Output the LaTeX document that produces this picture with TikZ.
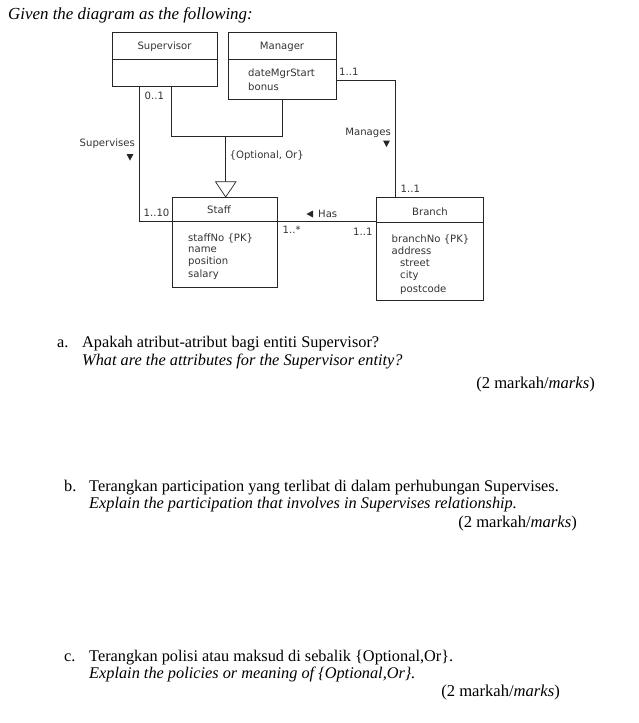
\documentclass[tikz,border=0pt]{standalone}
\usepackage{fontspec}
\setmainfont{Liberation Serif}
\newfontfamily\dv{DejaVu Sans}
\begin{document}
\begin{tikzpicture}[x=1pt,y=-1pt,
  box/.style={draw=black!85, line width=0.7pt, anchor=north west, inner sep=0pt, outer sep=0pt},
  lbl/.style={font=\dv\fontsize{10.1}{12}\selectfont, text=black!80, inner sep=0pt},
  lw/.style={lbl, anchor=west},
  conn/.style={draw=black!85, line width=0.7pt},
  q/.style={font=\fontsize{16.3}{19}\selectfont, inner sep=0pt, anchor=base west},
  qe/.style={font=\fontsize{16.6}{19}\selectfont, inner sep=0pt, anchor=base east},
  tri/.style={fill=black!85},
]
\useasboundingbox (0,0) rectangle (638,723);

% title
\node[q, font=\fontsize{16.9}{19}\selectfont] (title) at (8,19) {\textit{Given the diagram as the following:}};

% class boxes
\node[box, minimum width=105pt, minimum height=54pt] (sup) at (112,32) {};
\node[box, minimum width=108pt, minimum height=67pt] (mgr) at (228,32) {};
\node[box, minimum width=105pt, minimum height=90pt] (staff) at (172,197) {};
\node[box, minimum width=107pt, minimum height=103pt] (branch) at (376,197) {};

\draw[conn] (sup.west |- 0,59) -- (sup.east |- 0,59);
\draw[conn] (mgr.west |- 0,59) -- (mgr.east |- 0,59);
\draw[conn] (staff.west |- 0,221.7) -- (staff.east |- 0,221.7);
\draw[conn] (branch.west |- 0,222.5) -- (branch.east |- 0,222.5);

% class texts
\node[lbl] (supT) at (164.5,47) {Supervisor};
\node[lbl] (mgrT) at (282,47) {Manager};
\node[lw] (m1) at (248,74) {dateMgrStart};
\node[lw] (m2) at (248,87) {bonus};
\node[lbl] (stT) at (219,209.5) {Staff};
\node[lw] (s1) at (188,238) {staffNo \{PK\}};
\node[lw] (s2) at (188,250) {name};
\node[lw] (s3) at (188,262) {position};
\node[lw] (s4) at (188,274.5) {salary};
\node[lbl] (brT) at (430,211.5) {Branch};
\node[lw] (b1) at (391.5,239) {branchNo \{PK\}};
\node[lw] (b2) at (391.5,251) {address};
\node[lw] (b3) at (400,263) {street};
\node[lw] (b4) at (400,276) {city};
\node[lw] (b5) at (400,289.5) {postcode};

% connectors
\draw[conn] (sup.south -| 139,0) -- (139,221.7) -- (staff.west |- 0,221.7);
\draw[conn] (sup.south -| 171,0) -- (171,136.7) -- (282,136.7) -- (mgr.south -| 282,0);
\draw[conn] (225.7,136.7) -- (225.7,181.7);
\draw[conn, fill=white] (215.5,181.7) -- (236,181.7) -- (staff.north -| 225.7,0) -- cycle;
\draw[conn] (mgr.east |- 0,80.7) -- (395,80.7) -- (branch.north -| 395,0);
\draw[conn] (staff.east |- 0,221.7) -- (branch.west |- 0,221.7);

% connector labels
\node[lw] (l01) at (144.5,96) {0..1};
\node[lw] (l110) at (143.5,213) {1..10};
\node[lbl, anchor=east] (lsup) at (135,144) {Supervises};
\fill[tri] (126.5,154) -- (133.5,154) -- (130,160.5) -- cycle;
\node[lw] (lopt) at (229.5,155.5) {\{Optional, Or\}};
\node[lw] (l11m) at (339,72) {1..1};
\node[lbl, anchor=east] (lman) at (391,132.5) {Manages};
\fill[tri] (383,140.5) -- (390,140.5) -- (386.5,147) -- cycle;
\node[lw] (l11b) at (400.5,188.5) {1..1};
\fill[tri] (306.5,214) -- (313,210.5) -- (313,217.5) -- cycle;
\node[lw] (lhas) at (318,213.5) {Has};
\node[lw] (l1s) at (282.5,230) {1..*};
\node[lw] (l11h) at (353,232) {1..1};

% questions
\node[q] (qa0) at (57,347) {a.};
\node[q] (qa1) at (82,347) {Apakah atribut-atribut bagi entiti Supervisor?};
\node[q] (qa2) at (82,365) {\textit{What are the attributes for the Supervisor entity?}};
\node[qe] (qa3) at (595,388) {(2 markah/\textit{marks})};

\node[q] (qb0) at (64,491) {b.};
\node[q] (qb1) at (89,491) {Terangkan participation yang terlibat di dalam perhubungan Supervises.};
\node[q] (qb2) at (89,508.5) {\textit{Explain the participation that involves in Supervises relationship.}};
\node[qe] (qb3) at (577,527) {(2 markah/\textit{marks})};

\node[q] (qc0) at (64,661) {c.};
\node[q] (qc1) at (89,661) {Terangkan polisi atau maksud di sebalik \{Optional,Or\}.};
\node[q] (qc2) at (89,678) {\textit{Explain the policies or meaning of \{Optional,Or\}.}};
\node[qe] (qc3) at (560,696) {(2 markah/\textit{marks})};
\end{tikzpicture}
\end{document}
